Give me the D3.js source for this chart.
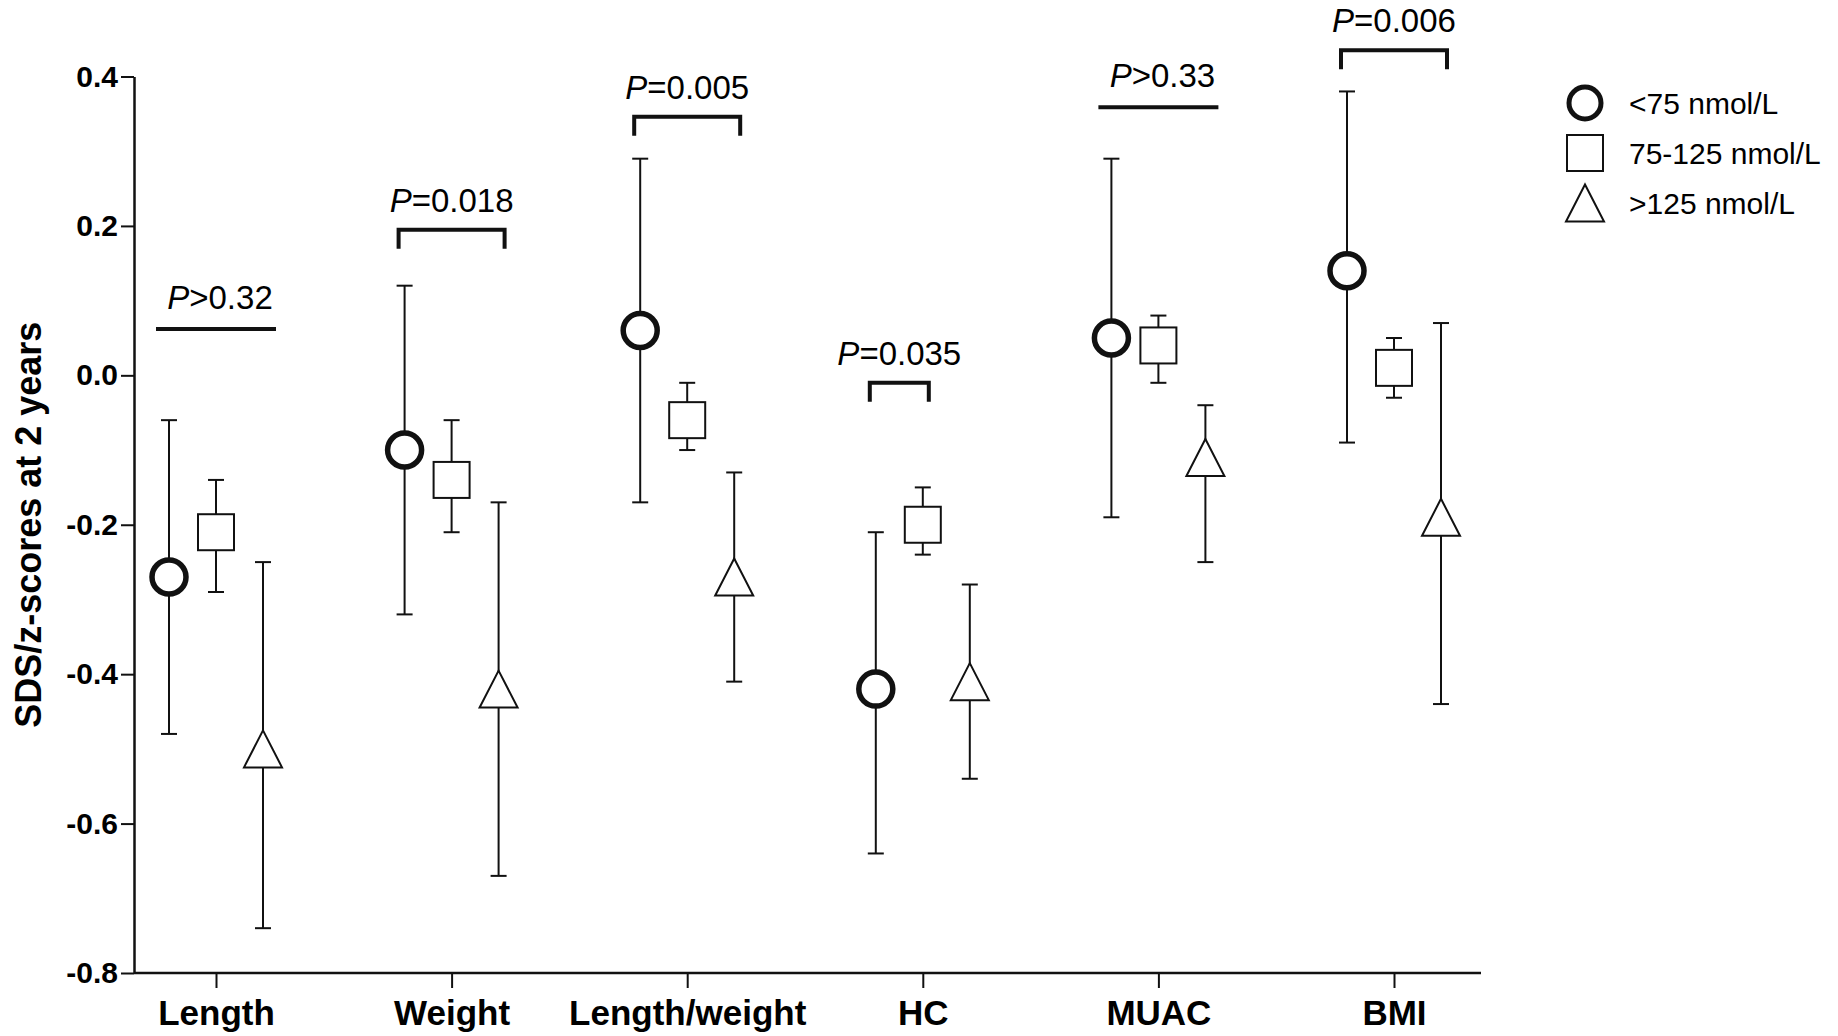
<!DOCTYPE html>
<html>
<head>
<meta charset="utf-8">
<script src="https://cdn.jsdelivr.net/npm/d3@7"></script>
<style>
  html, body { margin: 0; padding: 0; background: #fff; }
  svg { display: block; font-family: "Liberation Sans", Arial, Helvetica, sans-serif; }
</style>
</head>
<body>
<svg id="chart" width="1838" height="1036"></svg>
<script>
// Anthropometric outcomes at 2 years by maternal 25(OH)D group
const categories = ["Length", "Weight", "Length/weight", "HC", "MUAC", "BMI"];
const groups = ["<75 nmol/L", "75-125 nmol/L", ">125 nmol/L"];

const lowMean  = [-0.27, -0.10,  0.06, -0.42,  0.05,  0.14];
const lowUpper = [-0.06,  0.12,  0.29, -0.21,  0.29,  0.38];
const lowLower = [-0.48, -0.32, -0.17, -0.64, -0.19, -0.09];

const midMean  = [-0.21, -0.14, -0.06, -0.20,  0.04,  0.01];
const midUpper = [-0.14, -0.06, -0.01, -0.15,  0.08,  0.05];
const midLower = [-0.29, -0.21, -0.10, -0.24, -0.01, -0.03];

const highMean  = [-0.50, -0.42, -0.27, -0.41, -0.11, -0.19];
const highUpper = [-0.25, -0.17, -0.13, -0.28, -0.04,  0.07];
const highLower = [-0.74, -0.67, -0.41, -0.54, -0.25, -0.44];

const yTicks = [-0.8, -0.6, -0.4, -0.2, 0.0, 0.2, 0.4];

// P-value annotations per outcome
const pText   = [">0.32", "=0.018", "=0.005", "=0.035", ">0.33", "=0.006"];
const pLevel  = [0.062, 0.195, 0.346, -0.01, 0.359, 0.435];
const pEndIdx = [2, 2, 2, 1, 2, 2];
const pStyle  = ["line", "bracket", "bracket", "bracket", "line", "bracket"];

const series = [
  { name: groups[0], shape: "circle",   mean: lowMean,  upper: lowUpper,  lower: lowLower },
  { name: groups[1], shape: "square",   mean: midMean,  upper: midUpper,  lower: midLower },
  { name: groups[2], shape: "triangle", mean: highMean, upper: highUpper, lower: highLower }
];

const svg = d3.select("#chart");
const ink = "#111";

const axisX0 = 134, axisX1 = 1481;
const y = d3.scaleLinear().domain([-0.8, 0.4]).range([973, 76.5]);
const x = d3.scalePoint().domain(categories).range([216, 1394]);
const groupOffset = d3.scalePoint().domain(groups).range([-47, 47]);
const px = (cat, g) => x(cat) + groupOffset(g);

// marker drawing
function drawMarker(sel, shape, size) {
  if (shape === "circle") {
    sel.append("circle").attr("r", size.r).attr("fill", "#fff")
      .attr("stroke", ink).attr("stroke-width", size.cw);
  } else if (shape === "square") {
    sel.append("rect").attr("x", -size.s / 2).attr("y", -size.s / 2)
      .attr("width", size.s).attr("height", size.s)
      .attr("fill", "#fff").attr("stroke", ink).attr("stroke-width", 2);
  } else {
    const w = size.tw, h = size.th;
    sel.append("path")
      .attr("d", `M0,${-h / 2}L${w / 2},${h / 2}L${-w / 2},${h / 2}Z`)
      .attr("fill", "#fff").attr("stroke", ink).attr("stroke-width", 2)
      .attr("stroke-linejoin", "miter");
  }
}
const plotSize = { r: 17, cw: 5.5, s: 36, tw: 38, th: 37 };
const legendSize = { r: 16, cw: 5, s: 36, tw: 38, th: 37 };

// y axis
const yAxis = d3.axisLeft(y).tickValues(yTicks).tickFormat(d => d.toFixed(1))
  .tickSize(13).tickPadding(3).tickSizeOuter(0);
const gy = svg.append("g").attr("transform", `translate(${axisX0},0)`).call(yAxis);
gy.select(".domain").attr("stroke", ink).attr("stroke-width", 2.5);
gy.selectAll(".tick line").attr("stroke", ink).attr("stroke-width", 2);
gy.selectAll(".tick text").attr("fill", "#000").attr("font-size", 30)
  .attr("font-weight", "bold").attr("font-family", "Liberation Sans, Arial, sans-serif");

// x axis
const xAxis = d3.axisBottom(x).tickSize(15).tickPadding(12).tickSizeOuter(0);
const gx = svg.append("g").attr("transform", `translate(0,${y(-0.8)})`).call(xAxis);
gx.select(".domain").remove();
gx.append("line").attr("x1", axisX0).attr("x2", axisX1).attr("y1", 0).attr("y2", 0)
  .attr("stroke", ink).attr("stroke-width", 2.5);
gx.selectAll(".tick line").attr("stroke", ink).attr("stroke-width", 2);
gx.selectAll(".tick text").attr("fill", "#000").attr("font-size", 35)
  .attr("font-weight", "bold").attr("dy", "0.71em")
  .attr("font-family", "Liberation Sans, Arial, sans-serif");

// y axis title
svg.append("text")
  .attr("transform", `translate(41,${(y(-0.8) + y(0.4)) / 2}) rotate(-90)`)
  .attr("text-anchor", "middle")
  .attr("font-size", 36).attr("font-weight", "bold").attr("fill", "#000")
  .text("SDS/z-scores at 2 years");

// error bars and markers
const capW = 16;
const plot = svg.append("g");
series.forEach(s => {
  const g = plot.append("g");
  categories.forEach((c, i) => {
    const cx = px(c, s.name);
    const eb = g.append("g").attr("stroke", ink).attr("stroke-width", 2);
    eb.append("line").attr("x1", cx).attr("x2", cx).attr("y1", y(s.lower[i])).attr("y2", y(s.upper[i]));
    eb.append("line").attr("x1", cx - capW / 2).attr("x2", cx + capW / 2).attr("y1", y(s.upper[i])).attr("y2", y(s.upper[i]));
    eb.append("line").attr("x1", cx - capW / 2).attr("x2", cx + capW / 2).attr("y1", y(s.lower[i])).attr("y2", y(s.lower[i]));
  });
});
series.forEach(s => {
  categories.forEach((c, i) => {
    const m = plot.append("g").attr("transform", `translate(${px(c, s.name)},${y(s.mean[i])})`);
    drawMarker(m, s.shape, plotSize);
  });
});

// P-value annotations
const ann = svg.append("g");
categories.forEach((c, i) => {
  const isLine = pStyle[i] === "line";
  const pad = isLine ? 13 : 6;
  const x1 = px(c, groups[0]) - pad;
  const x2 = px(c, groups[pEndIdx[i]]) + pad;
  const yy = y(pLevel[i]);
  const legLen = 19;
  if (isLine) {
    ann.append("line").attr("x1", x1).attr("x2", x2).attr("y1", yy).attr("y2", yy)
      .attr("stroke", ink).attr("stroke-width", 4);
  } else {
    ann.append("path")
      .attr("d", `M${x1},${yy + legLen}V${yy}H${x2}V${yy + legLen}`)
      .attr("fill", "none").attr("stroke", ink).attr("stroke-width", 4)
      .attr("stroke-linejoin", "miter");
  }
  const t = ann.append("text")
    .attr("x", (x1 + x2) / 2 + (isLine ? 4 : 0))
    .attr("y", yy - (isLine ? 20 : 18))
    .attr("text-anchor", "middle")
    .attr("font-size", 33).attr("fill", "#000");
  t.append("tspan").attr("font-style", "italic").text("P");
  t.append("tspan").text(pText[i]);
});

// legend
const legend = svg.append("g").attr("transform", "translate(1585,103)");
series.forEach((s, i) => {
  const row = legend.append("g").attr("transform", `translate(0,${i * 50})`);
  const m = row.append("g");
  drawMarker(m, s.shape, legendSize);
  row.append("text").attr("x", 44).attr("y", 10.5)
    .attr("font-size", 30).attr("fill", "#000").text(s.name);
});
</script>
</body>
</html>
